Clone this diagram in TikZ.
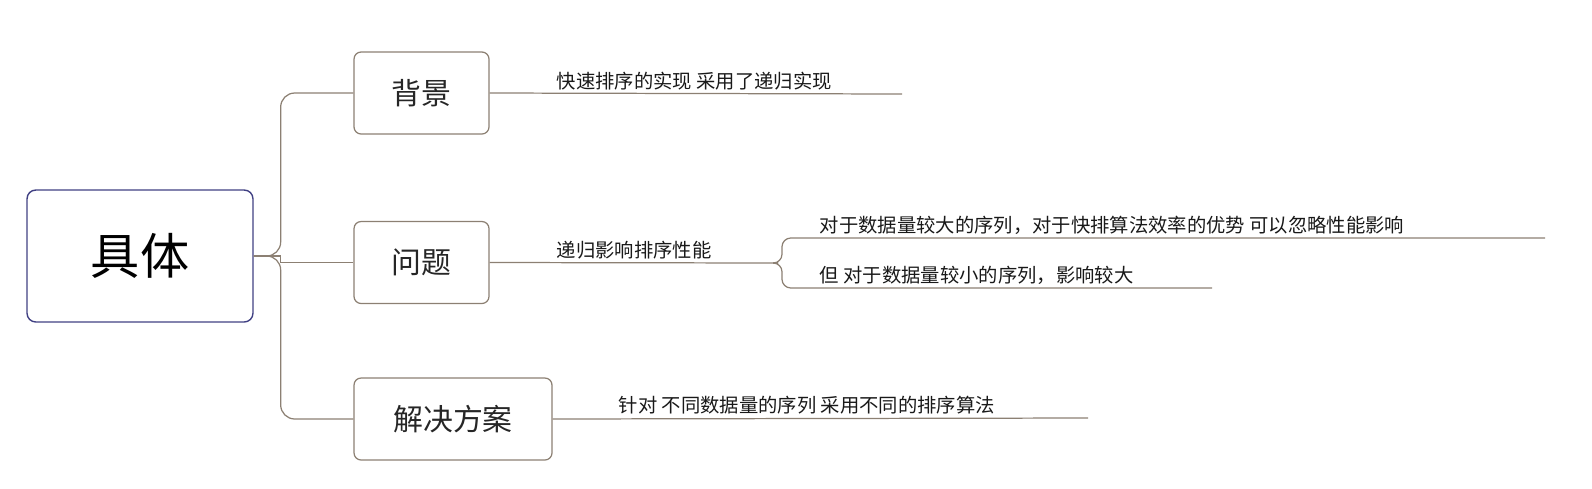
\documentclass[tikz,border=0pt]{standalone}
\usepackage{fontspec}
\newfontfamily\cjk{Noto Sans CJK SC}
\usepackage{tikz}
\tikzset{
  topic/.style={draw=gray!80!brown,rounded corners=4pt,line width=0.7pt,minimum height=1.64cm,font=\cjk\fontsize{17}{17}\selectfont,text=black!85},
  leaf/.style={anchor=south west,inner sep=2pt,font=\cjk\fontsize{11}{12}\selectfont,text=black!90},
  link/.style={draw=gray!80!brown,line width=0.7pt,rounded corners=8pt}
}
\begin{document}
\begin{tikzpicture}[x=0.02cm,y=-0.02cm]
\useasboundingbox (0,0) rectangle (1592,488);
\draw (140,256) node[draw=blue!35!black!75,rounded corners=5pt,line width=0.8pt,minimum width=4.52cm,minimum height=2.64cm,font=\cjk\fontsize{28}{28}\selectfont](root) {具体};
	\draw (421.5,93) node[topic,minimum width=2.7cm](bg) {背景};
	\draw (421.5,262.5) node[topic,minimum width=2.7cm](wt) {问题};
	\draw (453,419) node[topic,minimum width=3.96cm](fa) {解决方案};
		\coordinate (bgEnd) at (902,94);
		\coordinate (wtEnd) at (778,263);
		\coordinate (faEnd) at (1088,418);
		\coordinate (upEnd) at (1545,238);
		\coordinate (dnEnd) at (1212,288);
		\draw (553,94) node[leaf](bgText) {快速排序的实现 采用了递归实现};
		\draw (553,263) node[leaf](wtText) {递归影响排序性能};
		\draw (615,418) node[leaf](faText) {针对 不同数据量的序列 采用不同的排序算法};
			\draw (816,238) node[leaf](upText) {对于数据量较大的序列，对于快排算法效率的优势 可以忽略性能影响};
			\draw (816,288) node[leaf](dnText) {但 对于数据量较小的序列，影响较大};

\draw[link] (root.east) -- ++(27,0) |- (bg.west);
\draw[link,rounded corners=0pt] (root.east) -- ++(27,0) |- (wt.west);
\draw[link] (root.east) -- ++(27,0) |- (fa.west);
\draw[link] (bg.east) -- (bgEnd);
\draw[link] (wt.east) -- (wtEnd);
\draw[link] (fa.east) -- (faEnd);
\draw[link,rounded corners=5pt] (wtEnd) -- ++(4,0) |- (upEnd);
\draw[link,rounded corners=5pt] (wtEnd) -- ++(4,0) |- (dnEnd);
\end{tikzpicture}
\end{document}
